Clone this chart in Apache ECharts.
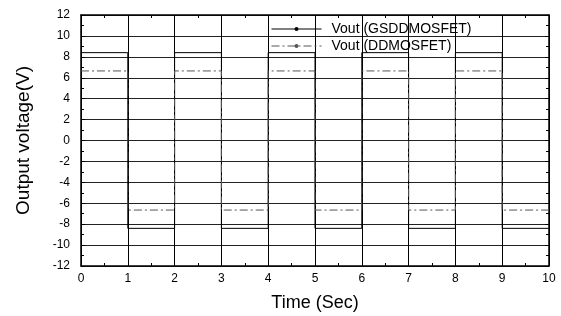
<!DOCTYPE html>
<html><head><meta charset="utf-8">
<script src="https://cdn.jsdelivr.net/npm/echarts@6/dist/echarts.min.js"></script>
<style>html,body{margin:0;padding:0;background:#fff}#c{width:561px;height:316px}</style>
</head><body><div id="c"></div>
<script>
const times = [0,1,2,3,4,5,6,7,8,9,10];
const vGSDD = [8.4,-8.4,8.4,-8.4,8.4,-8.4,8.4,-8.4,8.4,-8.4,-8.4];
const vDD = [6.65,-6.65,6.65,-6.65,6.65,-6.65,6.65,-6.65,6.65,-6.65,-6.65];
const seriesNames = ['Vout (GSDDMOSFET)','Vout (DDMOSFET)'];
const xTitle = 'Time (Sec)';
const yTitle = 'Output voltage(V)';

const chart = echarts.init(document.getElementById('c'), null, {renderer:'canvas'});
const font = 'Liberation Sans, Arial, sans-serif';
const baseX = {
  type:'value', min:0, max:10, interval:1,
  axisLine:{show:true, onZero:false, lineStyle:{color:'#000', width:1.5}},
  axisTick:{show:true, inside:true, length:4, lineStyle:{color:'#000'}},
  minorTick:{show:true, splitNumber:2, length:3, lineStyle:{color:'#000'}},
};
const baseY = {
  type:'value', min:-12, max:12, interval:2,
  axisLine:{show:true, onZero:false, lineStyle:{color:'#000', width:1.5}},
  axisTick:{show:true, inside:true, length:4, lineStyle:{color:'#000'}},
  minorTick:{show:true, splitNumber:2, length:3, lineStyle:{color:'#000'}},
};
chart.setOption({
  animation:false,
  backgroundColor:'#fff',
  grid:{left:81, right:12, top:15, bottom:50, containLabel:false, outerBoundsMode:'none'},
  legend:{
    left:266, top:17, orient:'vertical', itemGap:3, itemWidth:50, itemHeight:5,
    textStyle:{fontFamily:font, fontSize:14, color:'#000', padding:[0,0,0,5]},
    lineStyle:{width:1},
    data:seriesNames
  },
  xAxis:[
    Object.assign({}, baseX, {
      position:'bottom',
      name:xTitle, nameLocation:'middle', nameGap:28,
      nameTextStyle:{fontFamily:font, fontSize:18, color:'#000'},
      axisLabel:{fontFamily:font, fontSize:12, color:'#000', margin:7},
      splitLine:{show:true, lineStyle:{color:'#000', width:1}}
    }),
    Object.assign({}, baseX, {position:'top', axisLabel:{show:false}, splitLine:{show:false}})
  ],
  yAxis:[
    Object.assign({}, baseY, {
      position:'left',
      name:yTitle, nameLocation:'middle', nameGap:48,
      nameTextStyle:{fontFamily:font, fontSize:19, color:'#000'},
      axisLabel:{fontFamily:font, fontSize:12, color:'#000', margin:11},
      splitLine:{show:true, lineStyle:{color:'#222', width:1}}
    }),
    Object.assign({}, baseY, {position:'right', axisLabel:{show:false}, splitLine:{show:false}})
  ],
  series:[
    {
      name:seriesNames[0], type:'line', step:'end',
      data: times.map((t,i)=>[t, vGSDD[i]]),
      showSymbol:false, symbol:'circle', symbolSize:3,
      itemStyle:{color:'#000'},
      lineStyle:{color:'#000', width:1}
    },
    {
      name:seriesNames[1], type:'line', step:'end',
      data: times.map((t,i)=>[t, vDD[i]]),
      showSymbol:false, symbol:'circle', symbolSize:3,
      itemStyle:{color:'#555'},
      lineStyle:{color:'#555', width:1, type:[8,3,2,3]}
    }
  ]
});
</script></body></html>
